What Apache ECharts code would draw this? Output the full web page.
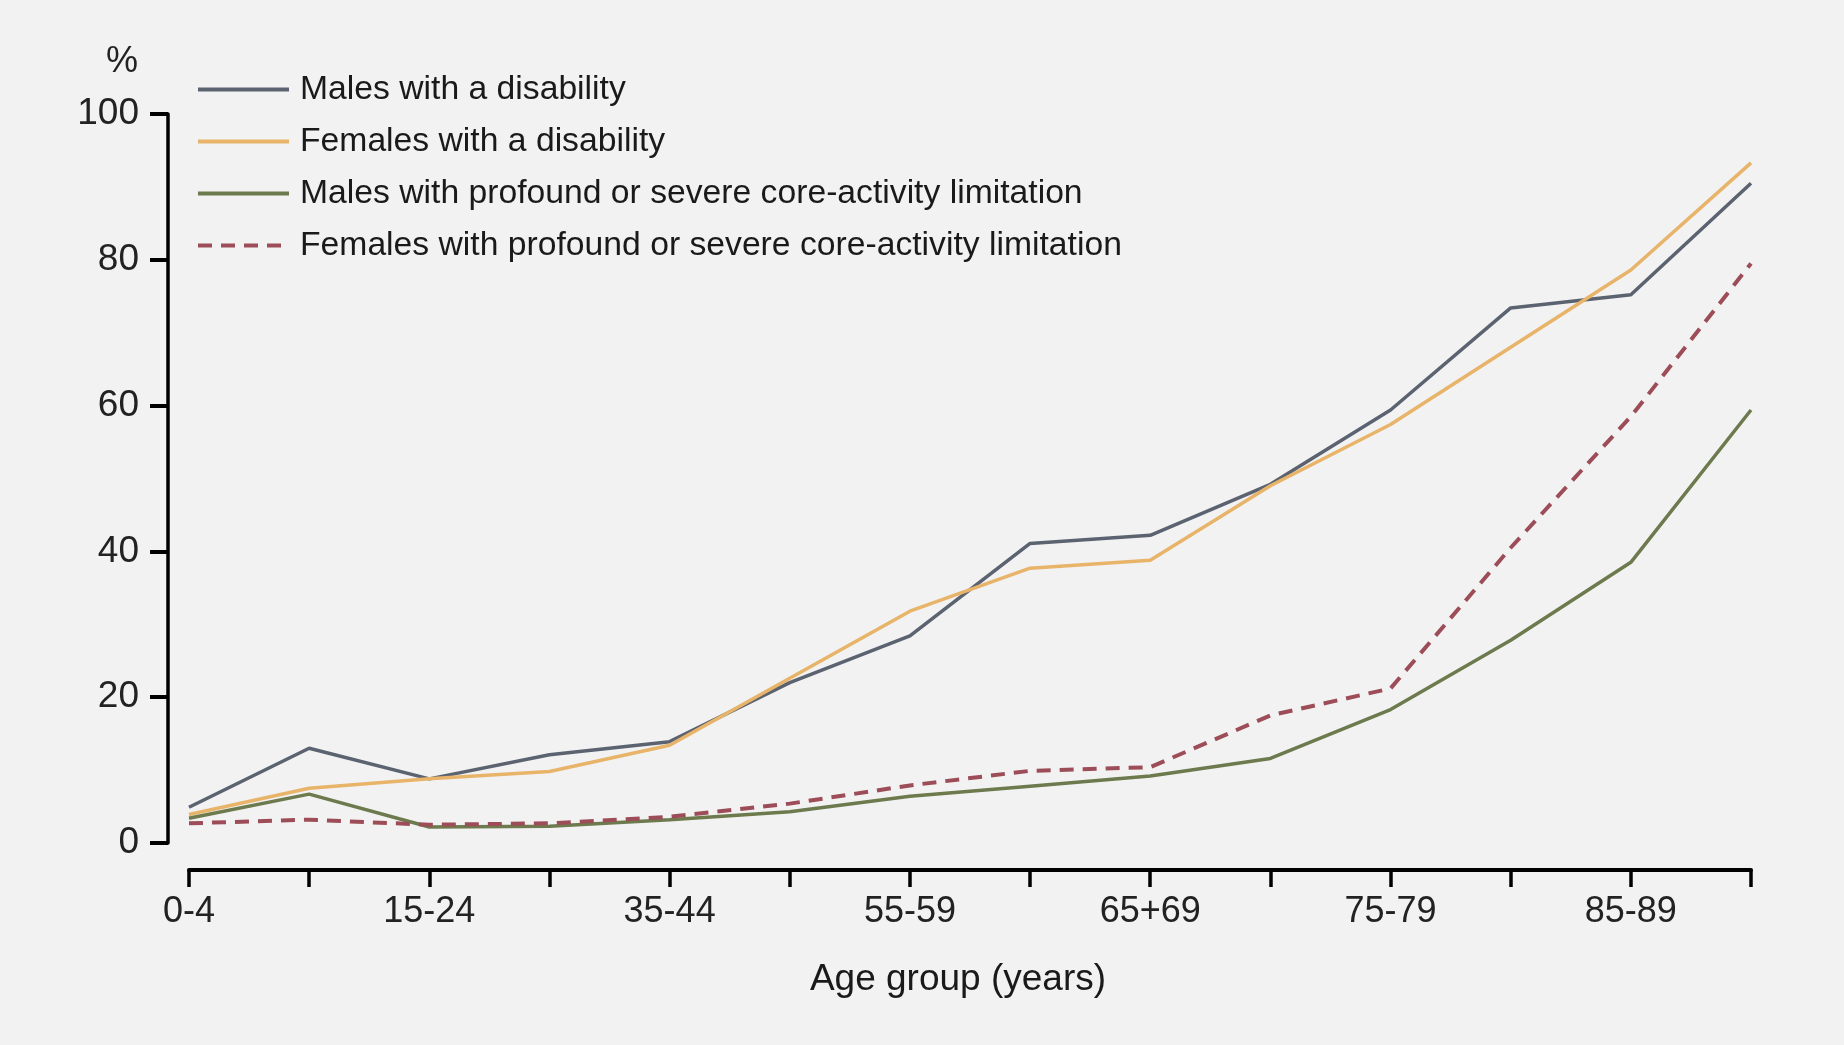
<!DOCTYPE html>
<html>
<head>
<meta charset="utf-8">
<script src="https://cdn.jsdelivr.net/npm/echarts@6/dist/echarts.min.js"></script>
<style>
  html, body { margin: 0; padding: 0; background: #f2f2f2; }
  #chart { width: 1844px; height: 1045px; }
</style>
</head>
<body>
<div id="chart"></div>
<script>
// age groups (every second label is shown, as in the original)
var ageGroups = ['0-4', '5-14', '15-24', '25-34', '35-44', '45-54', '55-59', '60-64',
                 '65+69', '70-74', '75-79', '80-84', '85-89', '90+'];

// % of each age group
var malesDisability     = [4.9, 13.0, 8.8, 12.1, 13.9, 22.0, 28.4, 41.1, 42.2, 49.2, 59.4, 73.4, 75.2, 90.5];
var femalesDisability   = [3.9, 7.5, 8.8, 9.8, 13.4, 22.6, 31.8, 37.7, 38.8, 49.0, 57.4, 68.0, 78.6, 93.3];
var malesProfound       = [3.4, 6.7, 2.2, 2.3, 3.2, 4.3, 6.4, 7.8, 9.2, 11.6, 18.3, 27.8, 38.5, 59.4];
var femalesProfound     = [2.7, 3.2, 2.5, 2.7, 3.6, 5.4, 7.9, 9.9, 10.4, 17.5, 21.2, 40.5, 58.5, 79.5];

var seriesNames = [
    'Males with a disability',
    'Females with a disability',
    'Males with profound or severe core-activity limitation',
    'Females with profound or severe core-activity limitation'
];

var fontFam = '"Liberation Sans", Arial, sans-serif';

var chart = echarts.init(document.getElementById('chart'));
var option = {
    backgroundColor: '#f2f2f2',
    animation: false,
    textStyle: { fontFamily: fontFam },
    grid: {
        left: 189,
        right: 93,
        top: 114,
        bottom: 202
    },
    legend: {
        orient: 'vertical',
        left: 191,
        top: 67,
        itemWidth: 91,
        itemHeight: 14,
        itemGap: 17,
        itemStyle: { opacity: 0 },
        lineStyle: { width: 4 },
        textStyle: {
            fontFamily: fontFam,
            fontSize: 33.7,
            lineHeight: 35,
            color: '#1a1a1a',
            padding: [0, 0, 0, 6]
        },
        data: seriesNames
    },
    graphic: [
        {
            type: 'text',
            left: 106,
            top: 44,
            style: { text: '%', fontSize: 36, fontFamily: fontFam, fill: '#222' }
        }
    ],
    xAxis: {
        type: 'category',
        boundaryGap: false,
        data: ageGroups,
        offset: 27,
        axisLine: { onZero: false, lineStyle: { color: '#000', width: 4 } },
        axisTick: {
            interval: 0,
            length: 17,
            lineStyle: { color: '#000', width: 3.5 }
        },
        axisLabel: {
            interval: 1,
            margin: 24,
            fontSize: 36,
            color: '#222',
            fontFamily: fontFam
        },
        name: 'Age group (years)',
        nameLocation: 'middle',
        nameGap: 91,
        nameTextStyle: {
            fontSize: 37,
            color: '#1a1a1a',
            fontFamily: fontFam,
            padding: [0, 24, 0, 0]
        }
    },
    yAxis: {
        type: 'value',
        min: 0,
        max: 100,
        interval: 20,
        offset: 21,
        axisLine: { show: true, onZero: false, lineStyle: { color: '#000', width: 3.5 } },
        axisTick: { show: true, length: 18, lineStyle: { color: '#000', width: 4 } },
        axisLabel: {
            margin: 29,
            fontSize: 37,
            color: '#222',
            fontFamily: fontFam
        },
        splitLine: { show: false }
    },
    series: [
        {
            name: seriesNames[0],
            type: 'line',
            data: malesDisability,
            symbol: 'none',
            lineStyle: { color: '#5c6370', width: 3.5 },
            itemStyle: { color: '#5c6370' }
        },
        {
            name: seriesNames[1],
            type: 'line',
            data: femalesDisability,
            symbol: 'none',
            lineStyle: { color: '#e8b46a', width: 3.5 },
            itemStyle: { color: '#e8b46a' }
        },
        {
            name: seriesNames[2],
            type: 'line',
            data: malesProfound,
            symbol: 'none',
            lineStyle: { color: '#6c7a4e', width: 3.5 },
            itemStyle: { color: '#6c7a4e' }
        },
        {
            name: seriesNames[3],
            type: 'line',
            data: femalesProfound,
            symbol: 'none',
            lineStyle: { color: '#9c4d58', width: 4, type: [14, 9] },
            itemStyle: { color: '#9c4d58' }
        }
    ]
};
chart.setOption(option);
</script>
</body>
</html>
